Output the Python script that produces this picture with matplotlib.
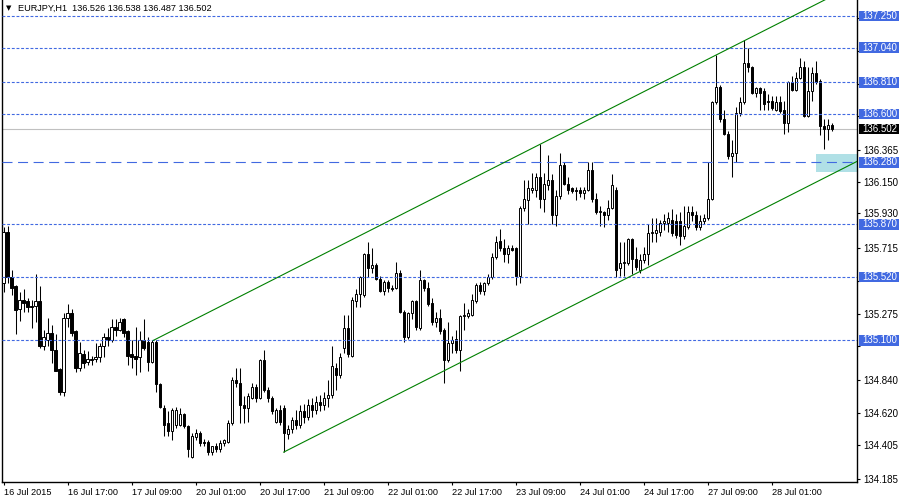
import numpy as np
import matplotlib
matplotlib.use('Agg')
import matplotlib.pyplot as plt
from matplotlib.patches import Rectangle
import matplotlib.transforms as mtransforms

plt.rcParams['font.family'] = ['Liberation Sans', 'DejaVu Sans']

# EURJPY H1 candles, one per hour (bar index 0 = 16 Jul 2015 01:00)
opens = [
    135.48, 135.82, 135.52, 135.46, 135.31, 135.37, 135.36, 135.33, 135.33, 135.36,
    135.06, 135.10, 135.15, 135.04, 134.91, 134.76, 135.25, 135.28, 135.16, 134.92,
    135.01, 134.96, 134.97, 134.98, 134.99, 135.06, 135.12, 135.10, 135.19, 135.17,
    135.24, 135.16, 135.01, 135.00, 134.99, 135.10, 135.09, 134.96, 135.09, 134.81,
    134.65, 134.55, 134.50, 134.54, 134.54, 134.61, 134.53, 134.33, 134.46, 134.49,
    134.43, 134.43, 134.36, 134.40, 134.38, 134.42, 134.43, 134.55, 134.84, 134.82,
    134.67, 134.65, 134.72, 134.79, 134.72, 134.97, 134.77, 134.72, 134.56, 134.64,
    134.65, 134.48, 134.51, 134.57, 134.54, 134.63, 134.59, 134.67, 134.64, 134.69,
    134.67, 134.72, 134.74, 134.92, 134.87, 135.05, 135.18, 135.00, 135.36, 135.41,
    135.40, 135.67, 135.58, 135.60, 135.51, 135.43, 135.49, 135.45, 135.45, 135.55,
    135.29, 135.12, 135.28, 135.36, 135.18, 135.50, 135.45, 135.35, 135.22, 135.25,
    135.17, 134.97, 135.08, 135.11, 135.04, 135.26, 135.26, 135.27, 135.36, 135.47,
    135.43, 135.48, 135.52, 135.65, 135.76, 135.71, 135.67, 135.71, 135.71, 135.53,
    135.98, 136.03, 136.10, 136.10, 136.18, 136.04, 136.13, 136.16, 135.93, 136.06,
    136.26, 136.14, 136.11, 136.10, 136.10, 136.08, 136.10, 136.23, 136.04, 135.95,
    135.95, 135.93, 135.98, 136.10, 135.58, 135.61, 135.61, 135.77, 135.64, 135.57,
    135.63, 135.67, 135.81, 135.81, 135.82, 135.88, 135.88, 135.90, 135.89, 135.89,
    135.79, 135.85, 135.95, 135.93, 135.85, 135.89, 135.91, 136.04, 136.68, 136.78,
    136.57, 136.47, 136.32, 136.34, 136.61, 136.68, 136.94, 136.91, 136.74, 136.77,
    136.75, 136.69, 136.69, 136.63, 136.68, 136.63, 136.54, 136.81, 136.76, 136.84,
    136.91, 136.59, 136.75, 136.87, 136.82, 136.52, 136.50, 136.526,
]
highs = [
    135.85, 135.86, 135.57, 135.47, 135.42, 135.44, 135.38, 135.37, 135.54, 135.46,
    135.17, 135.25, 135.20, 135.14, 134.92, 135.28, 135.34, 135.31, 135.17, 135.09,
    135.04, 135.03, 135.00, 135.08, 135.08, 135.15, 135.18, 135.24, 135.24, 135.25,
    135.25, 135.17, 135.10, 135.19, 135.16, 135.24, 135.12, 135.10, 135.10, 134.82,
    134.67, 134.63, 134.65, 134.66, 134.65, 134.62, 134.54, 134.49, 134.51, 134.50,
    134.45, 134.44, 134.40, 134.42, 134.44, 134.45, 134.57, 134.86, 134.92, 134.92,
    134.73, 134.75, 134.82, 134.81, 134.98, 135.04, 134.79, 134.73, 134.65, 134.67,
    134.67, 134.54, 134.59, 134.64, 134.67, 134.68, 134.71, 134.72, 134.73, 134.74,
    134.76, 134.84, 135.06, 134.95, 135.02, 135.27, 135.27, 135.39, 135.44, 135.53,
    135.68, 135.75, 135.71, 135.61, 135.53, 135.50, 135.50, 135.47, 135.62, 135.57,
    135.30, 135.29, 135.37, 135.37, 135.57, 135.51, 135.49, 135.38, 135.29, 135.31,
    135.18, 135.22, 135.13, 135.17, 135.27, 135.35, 135.31, 135.41, 135.48, 135.49,
    135.49, 135.54, 135.68, 135.79, 135.84, 135.77, 135.73, 135.73, 135.72, 135.99,
    136.16, 136.16, 136.21, 136.21, 136.40, 136.21, 136.33, 136.20, 136.10, 136.34,
    136.28, 136.18, 136.12, 136.12, 136.12, 136.12, 136.28, 136.28, 136.08, 135.99,
    135.96, 136.03, 136.20, 136.12, 135.75, 135.75, 135.78, 135.78, 135.72, 135.67,
    135.72, 135.87, 135.91, 135.91, 135.90, 135.94, 135.95, 135.97, 135.94, 135.95,
    135.99, 135.99, 135.99, 135.96, 135.93, 135.94, 136.28, 136.69, 136.99, 136.79,
    136.63, 136.49, 136.43, 136.65, 136.71, 137.09, 137.04, 136.92, 136.78, 136.78,
    136.77, 136.73, 136.72, 136.72, 136.72, 136.69, 136.82, 136.85, 136.88, 136.97,
    136.95, 136.91, 136.91, 136.95, 136.83, 136.57, 136.57, 136.538,
]
lows = [
    135.42, 135.48, 135.40, 135.14, 135.23, 135.29, 135.29, 135.18, 135.22, 135.05,
    135.04, 135.06, 134.95, 134.90, 134.74, 134.73, 135.19, 135.13, 134.89, 134.90,
    134.92, 134.94, 134.94, 134.96, 134.96, 134.99, 135.06, 135.09, 135.13, 135.16,
    135.12, 134.94, 134.92, 134.87, 134.89, 135.04, 134.90, 134.95, 134.76, 134.65,
    134.47, 134.47, 134.44, 134.52, 134.53, 134.52, 134.33, 134.32, 134.44, 134.40,
    134.40, 134.34, 134.34, 134.36, 134.36, 134.40, 134.42, 134.54, 134.79, 134.55,
    134.55, 134.56, 134.71, 134.69, 134.71, 134.76, 134.69, 134.61, 134.55, 134.54,
    134.36, 134.45, 134.49, 134.51, 134.52, 134.55, 134.57, 134.59, 134.61, 134.63,
    134.64, 134.66, 134.72, 134.77, 134.85, 135.02, 134.99, 134.99, 135.32, 135.32,
    135.39, 135.52, 135.55, 135.50, 135.42, 135.40, 135.42, 135.43, 135.44, 135.28,
    135.09, 135.11, 135.24, 135.17, 135.17, 135.43, 135.33, 135.20, 135.19, 135.14,
    134.82, 134.96, 135.02, 135.02, 134.90, 135.17, 135.25, 135.26, 135.35, 135.41,
    135.40, 135.47, 135.51, 135.64, 135.69, 135.62, 135.61, 135.69, 135.47, 135.48,
    135.96, 135.87, 136.08, 136.05, 135.98, 135.95, 136.10, 135.87, 135.86, 136.04,
    136.13, 136.07, 136.08, 136.03, 136.05, 136.04, 136.09, 136.02, 135.94, 135.86,
    135.85, 135.90, 135.97, 135.52, 135.53, 135.53, 135.60, 135.54, 135.57, 135.55,
    135.61, 135.60, 135.75, 135.75, 135.79, 135.83, 135.82, 135.79, 135.78, 135.73,
    135.77, 135.84, 135.89, 135.83, 135.83, 135.87, 135.90, 136.03, 136.67, 136.55,
    136.46, 136.30, 136.18, 136.28, 136.59, 136.67, 136.88, 136.73, 136.71, 136.63,
    136.63, 136.63, 136.63, 136.62, 136.61, 136.47, 136.48, 136.75, 136.75, 136.83,
    136.58, 136.58, 136.69, 136.80, 136.46, 136.37, 136.43, 136.487,
]
closes = [
    135.82, 135.52, 135.45, 135.30, 135.37, 135.35, 135.32, 135.32, 135.36, 135.06,
    135.12, 135.15, 135.04, 134.90, 134.76, 135.25, 135.28, 135.15, 134.92, 135.02,
    134.95, 134.98, 134.98, 134.99, 135.06, 135.12, 135.10, 135.19, 135.17, 135.22,
    135.15, 135.00, 134.99, 134.98, 135.10, 135.05, 134.96, 135.09, 134.81, 134.66,
    134.54, 134.50, 134.64, 134.64, 134.61, 134.53, 134.38, 134.47, 134.49, 134.42,
    134.42, 134.36, 134.40, 134.38, 134.42, 134.44, 134.55, 134.84, 134.82, 134.67,
    134.65, 134.73, 134.79, 134.72, 134.97, 134.77, 134.72, 134.63, 134.64, 134.56,
    134.49, 134.51, 134.57, 134.54, 134.63, 134.59, 134.67, 134.64, 134.69, 134.67,
    134.72, 134.74, 134.93, 134.87, 134.99, 135.18, 135.01, 135.37, 135.41, 135.52,
    135.67, 135.58, 135.60, 135.51, 135.43, 135.49, 135.45, 135.44, 135.55, 135.29,
    135.12, 135.28, 135.36, 135.19, 135.50, 135.45, 135.34, 135.22, 135.25, 135.16,
    134.97, 135.08, 135.10, 135.04, 135.26, 135.27, 135.28, 135.37, 135.47, 135.43,
    135.48, 135.52, 135.65, 135.75, 135.71, 135.67, 135.71, 135.70, 135.53, 135.98,
    136.04, 136.11, 136.11, 136.18, 136.04, 136.14, 136.16, 135.93, 136.06, 136.26,
    136.14, 136.10, 136.09, 136.09, 136.08, 136.10, 136.23, 136.04, 135.95, 135.96,
    135.93, 135.98, 136.13, 135.57, 135.61, 135.62, 135.77, 135.64, 135.59, 135.63,
    135.67, 135.81, 135.82, 135.83, 135.88, 135.89, 135.91, 135.81, 135.80, 135.79,
    135.86, 135.95, 135.93, 135.85, 135.89, 135.91, 136.04, 136.68, 136.78, 136.57,
    136.47, 136.32, 136.34, 136.61, 136.68, 136.94, 136.91, 136.74, 136.77, 136.74,
    136.67, 136.68, 136.64, 136.68, 136.62, 136.54, 136.81, 136.76, 136.84, 136.91,
    136.59, 136.75, 136.87, 136.81, 136.52, 136.50, 136.53, 136.502,
]

# time axis labels, every 16 bars
time_ticks = [0, 16, 32, 48, 64, 80, 96, 112, 128, 144, 160, 176, 192]
time_labels = ['16 Jul 2015', '16 Jul 17:00', '17 Jul 09:00', '20 Jul 01:00',
               '20 Jul 17:00', '21 Jul 09:00', '22 Jul 01:00', '22 Jul 17:00',
               '23 Jul 09:00', '24 Jul 01:00', '24 Jul 17:00', '27 Jul 09:00',
               '28 Jul 01:00']

# price scale marks (positions as drawn) and the text printed beside them;
# blank text where a level label box covers the mark
price_ticks = [134.185, 134.405, 134.620, 134.840, 135.060, 135.275, 135.495,
               135.715, 135.944, 136.150, 136.365, 136.585, 136.800, 137.020,
               137.235]
price_labels = ['134.185', '134.405', '134.620', '134.840', '', '135.275', '',
                '135.715', '135.930', '136.150', '136.365', '', '', '', '']

# horizontal levels drawn on the chart
levels = [137.250, 137.040, 136.810, 136.600, 135.870, 135.520, 135.100]
pivot_level = 136.280
bid = 136.502
header = 'EURJPY,H1  136.526 136.538 136.487 136.502'

# channel (lower anchor, upper anchor, slope in price per bar)
lower_anchor = (70, 134.36)
upper_anchor = (37.4, 135.10)
channel_slope = 0.01345

# zone box near the pivot
zone_bars = (202.9, 213.3)
zone_prices = (136.216, 136.335)

xmin, xmax = -0.375, 213.3
ymin, ymax = 134.164, 137.356

blue = '#4169E1'
green = '#008000'

fig = plt.figure(figsize=(9, 5), dpi=100)
ax = fig.add_axes([2/900, 18.3/500, 855.3/900, 481.7/500])
ax.set_xlim(xmin, xmax)
ax.set_ylim(ymin, ymax)

o = np.array(opens)
h = np.array(highs)
l = np.array(lows)
c = np.array(closes)
h = np.maximum(h, np.maximum(o, c))
l = np.minimum(l, np.minimum(o, c))
x = np.arange(len(o))
bull = c >= o

ax.add_patch(Rectangle((zone_bars[0], zone_prices[0]), zone_bars[1]-zone_bars[0],
                       zone_prices[1]-zone_prices[0], facecolor='#B0E0E6',
                       edgecolor='none', zorder=1))

ax.vlines(x, l, h, color='black', lw=0.75, zorder=3)
body = np.maximum(np.abs(c - o), 0.003)
ax.bar(x, body, bottom=np.minimum(o, c), width=0.55,
       color=np.where(bull, 'white', 'black'), edgecolor='black', lw=0.7, zorder=4)

for lv in levels:
    ax.axhline(lv, color=blue, lw=0.8, linestyle=(0, (2.6, 1.6)), zorder=5)
ax.axhline(pivot_level, color=blue, lw=0.8, linestyle=(0, (9, 5)), zorder=5)
ax.axhline(bid, color='#C0C0C0', lw=0.8, zorder=2)

for ax0, p0 in (lower_anchor, upper_anchor):
    ax.plot([ax0, xmax], [p0, p0 + (xmax - ax0) * channel_slope],
            color=green, lw=0.8, zorder=6)

# axes styling
ax.spines['top'].set_visible(False)
for s in ['left', 'bottom', 'right']:
    ax.spines[s].set_linewidth(1.0)

ax.yaxis.tick_right()
ax.set_yticks(price_ticks)
ax.set_yticklabels(price_labels)
ax.tick_params(axis='y', direction='out', length=2.2, width=0.8, pad=2.2,
               labelsize=7)
ax.set_xticks(time_ticks)
ax.set_xticklabels(time_labels, ha='left')
ax.tick_params(axis='x', direction='out', length=2.5, width=0.8, pad=2,
               labelsize=6.6)

# right-side price labels
box_h = 10.5 / 150.9
trans = mtransforms.blended_transform_factory(ax.transAxes, ax.transData)
box_x0 = (859 - 2) / 855.3
box_w = 40 / 855.3
txt_x = (862.5 - 2) / 855.3
for lv, fc in [(v, blue) for v in levels + [pivot_level]] + [(bid, 'black')]:
    ax.add_patch(Rectangle((box_x0, lv - box_h/2), box_w, box_h, transform=trans,
                           facecolor=fc, edgecolor='none', clip_on=False, zorder=10))
    ax.text(txt_x, lv, '%.3f' % lv, transform=trans, color='white', fontsize=7,
            va='center', ha='left', clip_on=False, zorder=11)

fig.text(6/900, 1 - 8/500, '\u25bc', family='DejaVu Sans', fontsize=5,
         va='center', ha='left')
fig.text(18/900, 1 - 8/500, header, fontsize=6.6, va='center', ha='left')

fig.savefig('out.png', dpi=100)
